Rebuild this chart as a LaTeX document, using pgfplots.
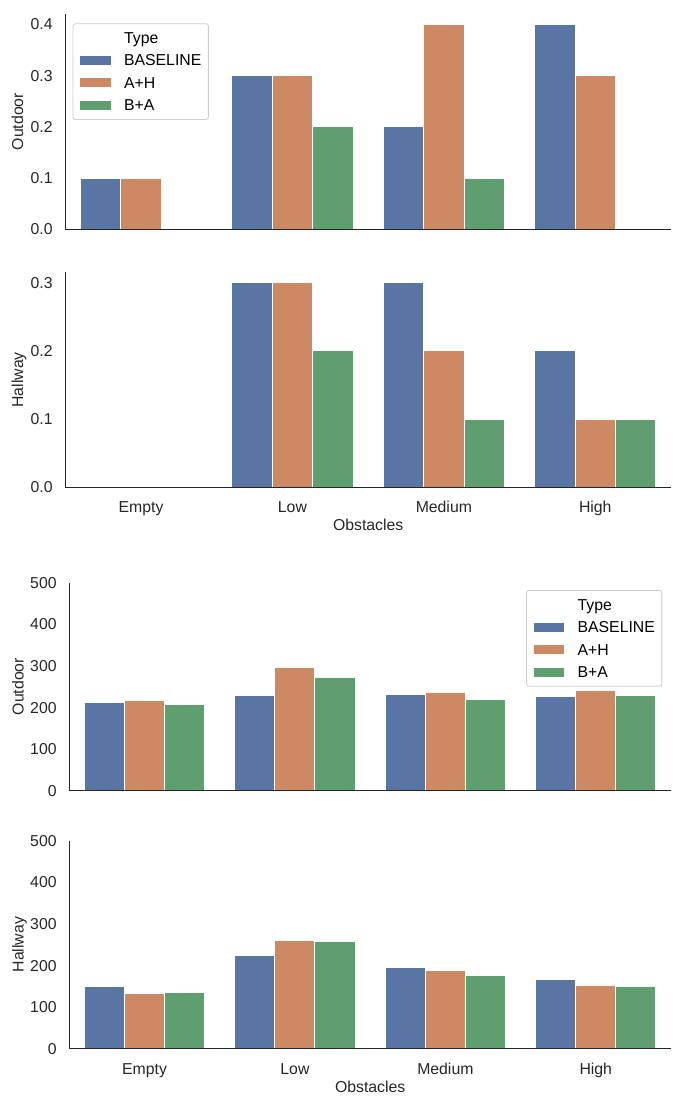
\documentclass[border=0pt]{standalone}
\usepackage{fontspec}
\setmainfont{Liberation Sans}
\usepackage{pgfplots}
\pgfplotsset{compat=1.18}

\definecolor{cBase}{HTML}{5875A4}
\definecolor{cAH}{HTML}{CC8963}
\definecolor{cBA}{HTML}{5F9E6E}
\definecolor{spine}{HTML}{262626}

\newcommand{\lbl}{\fontsize{15.8}{19}\selectfont}

\tikzset{lab/.style={font=\lbl, text=spine, inner sep=0pt,
    text height=11.2pt, text depth=0pt}}

\pgfplotsset{
  panel/.style={
    scale only axis, anchor=south west,
    axis x line*=bottom, axis y line*=left,
    axis line style={spine, line width=1.4pt},
    major tick length=0pt,
    xmin=-0.5, xmax=3.5, ymin=0,
    xtick={0,1,2,3}, xticklabels={,,,},
    ybar, bar width=0.2667,
    axis on top,
    /pgf/number format/assume math mode=true,
    tick label style={lab},
    yticklabel style={anchor=east, xshift=-12.5pt},
    xticklabel style={anchor=north, yshift=-14pt},
    every axis x label/.style={lab, at={(axis description cs:0.5,0)},
      anchor=north, yshift=-32pt},
    legend style={font=\lbl, draw=black!20, line width=0.8pt,
      rounded corners=2.5pt, fill=white, fill opacity=0.8, text opacity=1,
      inner xsep=7pt, inner ysep=8.6pt, row sep=11.3pt, column sep=13.3pt,
      nodes={inner sep=0pt, text height=11.2pt, text depth=0pt}},
    legend cell align=left,
    legend image code/.code={\fill[##1,draw=none,fill opacity=1,sharp corners]
      (0pt,-4.5pt) rectangle (30.7pt,4.5pt);},
  },
  frac/.style={
    yticklabel style={/pgf/number format/.cd, fixed, fixed zerofill, precision=1},
    every axis y label/.style={lab, at={(axis description cs:-0.0789,0.5)},
      rotate=90, anchor=center},
  },
  secs/.style={
    every axis y label/.style={lab, at={(axis description cs:-0.0853,0.5)},
      rotate=90, anchor=center},
  },
  sb/.style={fill=cBase, draw=white, line width=1pt, bar shift=-0.2667},
  sa/.style={fill=cAH, draw=white, line width=1pt, bar shift=0},
  sg/.style={fill=cBA, draw=white, line width=1pt, bar shift=0.2667},
}

\begin{document}
\begin{tikzpicture}
\useasboundingbox (0,0) rectangle (684pt,1104pt);

% top figure, outdoor
\begin{axis}[panel, frac, at={(65.3pt,874.7pt)}, width=605.7pt, height=215.3pt,
  ymax=0.42, ytick={0,0.1,0.2,0.3,0.4}, ylabel={Outdoor},
  legend style={at={(0.0122,0.9568)}, anchor=north west}]
  \addlegendimage{empty legend}
  \addlegendentry{Type}
  \addplot[sb] coordinates {(0,0.1) (1,0.3) (2,0.2) (3,0.4)};
  \addlegendentry{BASELINE}
  \addplot[sa] coordinates {(0,0.1) (1,0.3) (2,0.4) (3,0.3)};
  \addlegendentry{A+H}
  \addplot[sg] coordinates {(1,0.2) (2,0.1)};
  \addlegendentry{B+A}
\end{axis}

% top figure, hallway
\begin{axis}[panel, frac, at={(65.3pt,616.7pt)}, width=605.7pt, height=215pt,
  ymax=0.315, ytick={0,0.1,0.2,0.3}, ylabel={Hallway},
  xticklabels={Empty,Low,Medium,High}, xlabel={Obstacles}]
  \addplot[sb] coordinates {(1,0.3) (2,0.3) (3,0.2)};
  \addplot[sa] coordinates {(1,0.3) (2,0.2) (3,0.1)};
  \addplot[sg] coordinates {(1,0.2) (2,0.1) (3,0.1)};
\end{axis}

% bottom figure, outdoor
\begin{axis}[panel, secs, at={(69.3pt,313.3pt)}, width=601.7pt, height=208pt,
  ymax=500, ytick={0,100,200,300,400,500}, ylabel={Outdoor},
  legend style={at={(0.9855,0.965)}, anchor=north east}]
  \addlegendimage{empty legend}
  \addlegendentry{Type}
  \addplot[sb] coordinates {(0,212) (1,230) (2,232) (3,227)};
  \addlegendentry{BASELINE}
  \addplot[sa] coordinates {(0,218) (1,296) (2,237) (3,240)};
  \addlegendentry{A+H}
  \addplot[sg] coordinates {(0,208) (1,271) (2,220) (3,228)};
  \addlegendentry{B+A}
\end{axis}

% bottom figure, hallway
\begin{axis}[panel, secs, at={(69.3pt,55.3pt)}, width=601.7pt, height=208pt,
  ymax=500, ytick={0,100,200,300,400,500}, ylabel={Hallway},
  xticklabels={Empty,Low,Medium,High}, xlabel={Obstacles}]
  \addplot[sb] coordinates {(0,149) (1,224) (2,194) (3,167)};
  \addplot[sa] coordinates {(0,132) (1,260) (2,188) (3,152)};
  \addplot[sg] coordinates {(0,134) (1,257) (2,176) (3,150)};
\end{axis}
\end{tikzpicture}
\end{document}
